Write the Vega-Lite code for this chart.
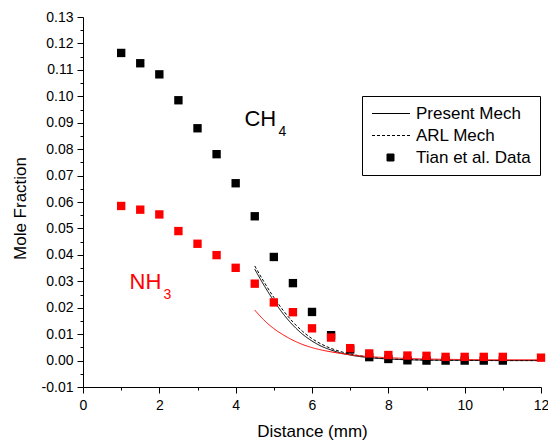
{
  "$schema": "https://vega.github.io/schema/vega-lite/v6.json",
  "width": 458,
  "height": 370,
  "autosize": {"type": "none"},
  "padding": {"left": 83, "top": 17, "right": 7, "bottom": 56},
  "background": "white",
  "config": {
    "view": {"stroke": null},
    "font": "Liberation Sans",
    "axis": {
      "grid": false,
      "domainColor": "black",
      "tickColor": "black",
      "labelColor": "black",
      "titleColor": "black",
      "labelFont": "Liberation Sans",
      "titleFont": "Liberation Sans",
      "titleFontWeight": "normal",
      "labelFontSize": 14,
      "titleFontSize": 17,
      "domainWidth": 1,
      "tickWidth": 1
    }
  },
  "datasets": {
    "curves": [
      {"species": "CH4", "mech": "Present Mech", "x": 4.5, "y": 0.0346},
      {"species": "CH4", "mech": "Present Mech", "x": 4.75, "y": 0.0283},
      {"species": "CH4", "mech": "Present Mech", "x": 5.0, "y": 0.0226},
      {"species": "CH4", "mech": "Present Mech", "x": 5.25, "y": 0.0176},
      {"species": "CH4", "mech": "Present Mech", "x": 5.5, "y": 0.0134},
      {"species": "CH4", "mech": "Present Mech", "x": 5.75, "y": 0.0100},
      {"species": "CH4", "mech": "Present Mech", "x": 6.0, "y": 0.0074},
      {"species": "CH4", "mech": "Present Mech", "x": 6.25, "y": 0.0054},
      {"species": "CH4", "mech": "Present Mech", "x": 6.5, "y": 0.0040},
      {"species": "CH4", "mech": "Present Mech", "x": 6.75, "y": 0.0029},
      {"species": "CH4", "mech": "Present Mech", "x": 7.0, "y": 0.0021},
      {"species": "CH4", "mech": "Present Mech", "x": 7.5, "y": 0.0011},
      {"species": "CH4", "mech": "Present Mech", "x": 8.0, "y": 0.0006},
      {"species": "CH4", "mech": "Present Mech", "x": 8.5, "y": 0.0003},
      {"species": "CH4", "mech": "Present Mech", "x": 9.0, "y": 0.0002},
      {"species": "CH4", "mech": "Present Mech", "x": 10.0, "y": 0.0001},
      {"species": "CH4", "mech": "Present Mech", "x": 11.0, "y": 0.0},
      {"species": "CH4", "mech": "Present Mech", "x": 12.0, "y": 0.0},
      {"species": "CH4", "mech": "ARL Mech", "x": 4.5, "y": 0.0358},
      {"species": "CH4", "mech": "ARL Mech", "x": 4.75, "y": 0.0296},
      {"species": "CH4", "mech": "ARL Mech", "x": 5.0, "y": 0.0239},
      {"species": "CH4", "mech": "ARL Mech", "x": 5.25, "y": 0.0189},
      {"species": "CH4", "mech": "ARL Mech", "x": 5.5, "y": 0.0146},
      {"species": "CH4", "mech": "ARL Mech", "x": 5.75, "y": 0.0111},
      {"species": "CH4", "mech": "ARL Mech", "x": 6.0, "y": 0.0083},
      {"species": "CH4", "mech": "ARL Mech", "x": 6.25, "y": 0.0062},
      {"species": "CH4", "mech": "ARL Mech", "x": 6.5, "y": 0.0046},
      {"species": "CH4", "mech": "ARL Mech", "x": 6.75, "y": 0.0034},
      {"species": "CH4", "mech": "ARL Mech", "x": 7.0, "y": 0.0025},
      {"species": "CH4", "mech": "ARL Mech", "x": 7.5, "y": 0.0013},
      {"species": "CH4", "mech": "ARL Mech", "x": 8.0, "y": 0.0007},
      {"species": "CH4", "mech": "ARL Mech", "x": 8.5, "y": 0.0004},
      {"species": "CH4", "mech": "ARL Mech", "x": 9.0, "y": 0.0002},
      {"species": "CH4", "mech": "ARL Mech", "x": 10.0, "y": 0.0001},
      {"species": "CH4", "mech": "ARL Mech", "x": 11.0, "y": 0.0},
      {"species": "CH4", "mech": "ARL Mech", "x": 12.0, "y": 0.0},
      {"species": "NH3", "mech": "Present Mech", "x": 4.5, "y": 0.0191},
      {"species": "NH3", "mech": "Present Mech", "x": 4.75, "y": 0.0152},
      {"species": "NH3", "mech": "Present Mech", "x": 5.0, "y": 0.0121},
      {"species": "NH3", "mech": "Present Mech", "x": 5.25, "y": 0.0097},
      {"species": "NH3", "mech": "Present Mech", "x": 5.5, "y": 0.0077},
      {"species": "NH3", "mech": "Present Mech", "x": 5.75, "y": 0.0061},
      {"species": "NH3", "mech": "Present Mech", "x": 6.0, "y": 0.0049},
      {"species": "NH3", "mech": "Present Mech", "x": 6.25, "y": 0.0040},
      {"species": "NH3", "mech": "Present Mech", "x": 6.5, "y": 0.0033},
      {"species": "NH3", "mech": "Present Mech", "x": 6.75, "y": 0.0027},
      {"species": "NH3", "mech": "Present Mech", "x": 7.0, "y": 0.0022},
      {"species": "NH3", "mech": "Present Mech", "x": 7.5, "y": 0.0015},
      {"species": "NH3", "mech": "Present Mech", "x": 8.0, "y": 0.0011},
      {"species": "NH3", "mech": "Present Mech", "x": 8.5, "y": 0.0008},
      {"species": "NH3", "mech": "Present Mech", "x": 9.0, "y": 0.0006},
      {"species": "NH3", "mech": "Present Mech", "x": 10.0, "y": 0.0004},
      {"species": "NH3", "mech": "Present Mech", "x": 11.0, "y": 0.0003},
      {"species": "NH3", "mech": "Present Mech", "x": 12.0, "y": 0.0003}
    ],
    "measured": [
      {"species": "CH4", "x": 1.0, "y": 0.1164},
      {"species": "CH4", "x": 1.5, "y": 0.1125},
      {"species": "CH4", "x": 2.0, "y": 0.1083},
      {"species": "CH4", "x": 2.5, "y": 0.0985},
      {"species": "CH4", "x": 3.0, "y": 0.0879},
      {"species": "CH4", "x": 3.5, "y": 0.0781},
      {"species": "CH4", "x": 4.0, "y": 0.0671},
      {"species": "CH4", "x": 4.5, "y": 0.0546},
      {"species": "CH4", "x": 5.0, "y": 0.0392},
      {"species": "CH4", "x": 5.5, "y": 0.0293},
      {"species": "CH4", "x": 6.0, "y": 0.0184},
      {"species": "CH4", "x": 6.5, "y": 0.0096},
      {"species": "CH4", "x": 7.0, "y": 0.0042},
      {"species": "CH4", "x": 7.5, "y": 0.0013},
      {"species": "CH4", "x": 8.0, "y": 0.0006},
      {"species": "CH4", "x": 8.5, "y": 0.0001},
      {"species": "CH4", "x": 9.0, "y": 0.0},
      {"species": "CH4", "x": 9.5, "y": 0.0},
      {"species": "CH4", "x": 10.0, "y": 0.0},
      {"species": "CH4", "x": 10.5, "y": 0.0},
      {"species": "CH4", "x": 11.0, "y": 0.0},
      {"species": "NH3", "x": 1.0, "y": 0.0585},
      {"species": "NH3", "x": 1.5, "y": 0.0571},
      {"species": "NH3", "x": 2.0, "y": 0.0553},
      {"species": "NH3", "x": 2.5, "y": 0.0490},
      {"species": "NH3", "x": 3.0, "y": 0.0442},
      {"species": "NH3", "x": 3.5, "y": 0.0399},
      {"species": "NH3", "x": 4.0, "y": 0.0351},
      {"species": "NH3", "x": 4.5, "y": 0.0291},
      {"species": "NH3", "x": 5.0, "y": 0.0220},
      {"species": "NH3", "x": 5.5, "y": 0.0183},
      {"species": "NH3", "x": 6.0, "y": 0.0122},
      {"species": "NH3", "x": 6.5, "y": 0.0087},
      {"species": "NH3", "x": 7.0, "y": 0.0047},
      {"species": "NH3", "x": 7.5, "y": 0.0027},
      {"species": "NH3", "x": 8.0, "y": 0.0021},
      {"species": "NH3", "x": 8.5, "y": 0.0019},
      {"species": "NH3", "x": 9.0, "y": 0.0018},
      {"species": "NH3", "x": 9.5, "y": 0.0014},
      {"species": "NH3", "x": 10.0, "y": 0.0014},
      {"species": "NH3", "x": 10.5, "y": 0.0014},
      {"species": "NH3", "x": 11.0, "y": 0.0014},
      {"species": "NH3", "x": 12.0, "y": 0.0011}
    ],
    "labels": [
      {"species": "CH4", "main": "CH", "sub": "4", "x": 4.23, "y": 0.0887},
      {"species": "NH3", "main": "NH", "sub": "3", "x": 1.22, "y": 0.0271}
    ]
  },
  "resolve": {"axis": {"x": "independent", "y": "independent"}},
  "layer": [
    {
      "data": {"name": "curves"},
      "mark": {"type": "line", "strokeWidth": 1, "interpolate": "monotone", "clip": true},
      "encoding": {
        "x": {
          "field": "x", "type": "quantitative",
          "scale": {"domain": [0, 12], "nice": false, "zero": false},
          "axis": {
            "orient": "bottom", "values": [0, 2, 4, 6, 8, 10, 12], "tickSize": 6,
            "labelPadding": 5, "title": "Distance (mm)", "titlePadding": 11,
            "labelFlush": false, "labelOverlap": false
          }
        },
        "y": {
          "field": "y", "type": "quantitative",
          "scale": {"domain": [-0.01, 0.13], "nice": false, "zero": false},
          "axis": {
            "orient": "left",
            "values": [-0.01, 0, 0.01, 0.02, 0.03, 0.04, 0.05, 0.06, 0.07, 0.08, 0.09, 0.1, 0.11, 0.12, 0.13],
            "labelExpr": "replace(format(datum.value, '.2f'), '\u2212', '-')",
            "tickSize": 6, "labelPadding": 4, "title": "Mole Fraction", "titlePadding": 12, "titleY": 191,
            "labelFlush": false, "labelOverlap": false
          }
        },
        "color": {
          "field": "species", "type": "nominal",
          "scale": {"domain": ["CH4", "NH3"], "range": ["#000000", "#ff0000"]},
          "legend": null
        },
        "strokeDash": {
          "field": "mech", "type": "nominal",
          "scale": {"domain": ["Present Mech", "ARL Mech", "Tian et al. Data"], "range": [[1, 0], [3, 2], [1, 0]]},
          "legend": {
            "orient": "none", "legendX": 279, "legendY": 79, "title": null,
            "strokeColor": "black", "fillColor": "white", "padding": 9, "cornerRadius": 0,
            "labelFont": "Liberation Sans", "labelFontSize": 17, "labelColor": "black", "labelOffset": 28,
            "symbolSize": 100, "symbolStrokeWidth": 1, "symbolStrokeColor": "black",
            "symbolType": {"expr": "datum.value === 'Tian et al. Data' ? 'M1.5,-0.7H2.9V0.7H1.5Z' : 'M-1.5,0H6.1'"},
            "symbolFillColor": {"expr": "datum.value === 'Tian et al. Data' ? 'black' : 'transparent'"},
            "rowPadding": 4
          }
        }
      }
    },
    {
      "data": {"name": "measured"},
      "mark": {"type": "point", "shape": "square", "filled": true, "size": 70, "opacity": 1},
      "encoding": {
        "x": {
          "field": "x", "type": "quantitative",
          "axis": {"orient": "bottom", "values": [1, 3, 5, 7, 9, 11], "tickSize": 3, "labels": false, "title": null, "domain": false}
        },
        "y": {
          "field": "y", "type": "quantitative",
          "axis": {
            "orient": "left",
            "values": [-0.005, 0.005, 0.015, 0.025, 0.035, 0.045, 0.055, 0.065, 0.075, 0.085, 0.095, 0.105, 0.115, 0.125],
            "tickSize": 3, "labels": false, "title": null, "domain": false
          }
        },
        "color": {"field": "species", "type": "nominal", "legend": null}
      }
    },
    {
      "data": {"name": "labels"},
      "mark": {"type": "text", "align": "left", "baseline": "alphabetic", "fontSize": 22, "font": "Liberation Sans"},
      "encoding": {
        "x": {"field": "x", "type": "quantitative", "axis": null},
        "y": {"field": "y", "type": "quantitative", "axis": null},
        "text": {"field": "main"},
        "color": {"field": "species", "type": "nominal", "legend": null}
      }
    },
    {
      "data": {"name": "labels"},
      "mark": {"type": "text", "align": "left", "baseline": "alphabetic", "fontSize": 14, "font": "Liberation Sans", "dx": 34, "dy": 10},
      "encoding": {
        "x": {"field": "x", "type": "quantitative", "axis": null},
        "y": {"field": "y", "type": "quantitative", "axis": null},
        "text": {"field": "sub"},
        "color": {"field": "species", "type": "nominal", "legend": null}
      }
    }
  ]
}
